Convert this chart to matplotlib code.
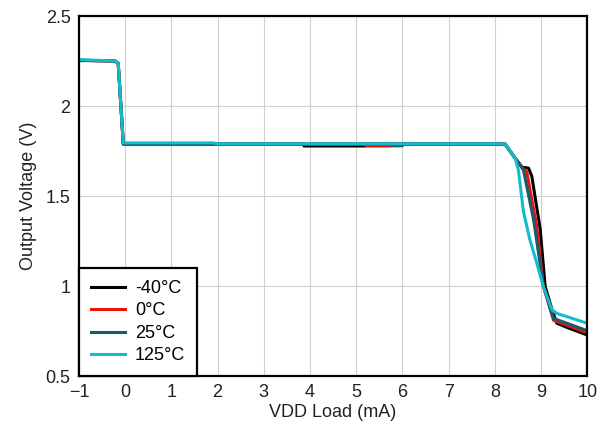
import matplotlib
matplotlib.use('Agg')
import matplotlib.pyplot as plt

plt.rcParams['font.family'] = ['Liberation Sans', 'DejaVu Sans']

# VDD load (mA) vs output voltage (V)
x_m40 = [-1.0, -0.22, -0.15, -0.04, 3.86, 3.87, 5.2, 5.21, 8.22, 8.44, 8.59, 8.73, 8.80, 8.98, 9.09, 9.24, 9.34, 9.56, 10.0]
y_m40 = [2.254, 2.25, 2.237, 1.789, 1.789, 1.778, 1.778, 1.789, 1.789, 1.71, 1.66, 1.655, 1.61, 1.32, 0.996, 0.867, 0.794, 0.77, 0.728]

x_0 = [-1.0, -0.22, -0.15, -0.04, 5.2, 5.21, 5.77, 5.78, 8.22, 8.44, 8.59, 8.69, 8.91, 9.05, 9.27, 10.0]
y_0 = [2.254, 2.25, 2.237, 1.788, 1.788, 1.778, 1.778, 1.789, 1.789, 1.71, 1.66, 1.635, 1.33, 1.0, 0.81, 0.74]

x_25 = [-1.0, -0.6, -0.22, -0.15, -0.04, 5.77, 5.78, 6.0, 6.01, 8.22, 8.44, 8.62, 8.84, 9.05, 9.27, 10.0]
y_25 = [2.252, 2.252, 2.25, 2.237, 1.789, 1.789, 1.779, 1.779, 1.789, 1.789, 1.71, 1.644, 1.367, 1.0, 0.82, 0.752]

x_125 = [-1.0, -0.22, -0.15, -0.04, 1.9, 2.0, 8.22, 8.44, 8.51, 8.62, 8.76, 8.91, 9.05, 9.24, 9.34, 10.0]
y_125 = [2.258, 2.25, 2.237, 1.795, 1.795, 1.79, 1.79, 1.71, 1.644, 1.413, 1.256, 1.126, 0.996, 0.867, 0.848, 0.793]

series = [
    ('-40°C', x_m40, y_m40, '#000000'),
    ('0°C', x_0, y_0, '#e8140c'),
    ('25°C', x_25, y_25, '#1b5a6e'),
    ('125°C', x_125, y_125, '#12bccc'),
]

fig = plt.figure(figsize=(5.98, 4.33), dpi=100)
ax = fig.add_axes([0.132, 0.1316, 0.85, 0.8314])

for label, xs, ys, c in series:
    ax.plot(xs, ys, color=c, lw=2.2, label=label)

ax.set_xlim(-1, 10)
ax.set_ylim(0.5, 2.5)
ax.set_xticks(range(-1, 11))
ax.set_yticks([0.5, 1, 1.5, 2, 2.5])
ax.set_yticklabels(['0.5', '1', '1.5', '2', '2.5'])
ax.grid(True, color='#d0d0d0', lw=0.8)
ax.set_axisbelow(True)
ax.tick_params(length=0, labelsize=13, pad=6, colors='#222222')
for s in ax.spines.values():
    s.set_linewidth(1.6)

ax.set_xlabel('VDD Load (mA)', fontsize=13, color='#222222', labelpad=2)
ax.set_ylabel('Output Voltage (V)', fontsize=13, color='#222222', labelpad=6)

leg = ax.legend(loc='lower left', borderaxespad=0, fancybox=False, fontsize=13,
                handlelength=1.9, handletextpad=0.55, labelspacing=0.3,
                borderpad=0.65, framealpha=1)
leg.get_frame().set_edgecolor('black')
leg.get_frame().set_linewidth(1.6)

plt.savefig('out.png', dpi=100)
